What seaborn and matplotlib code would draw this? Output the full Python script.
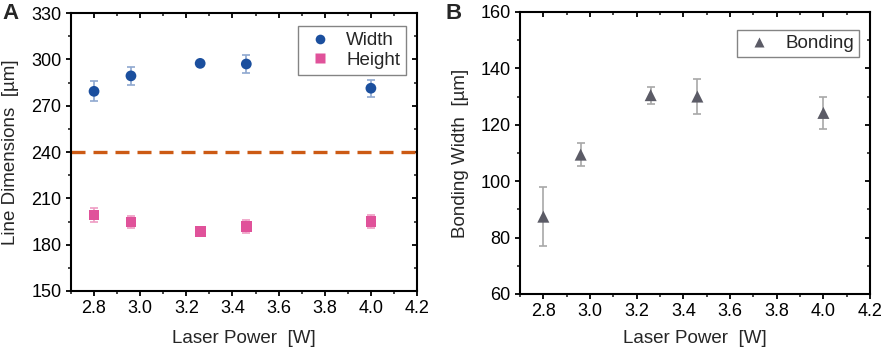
import numpy as np
import pandas as pd
import matplotlib
matplotlib.use("Agg")
import matplotlib.pyplot as plt
import seaborn as sns
from matplotlib.ticker import MultipleLocator

power = [2.8, 2.96, 3.26, 3.46, 4.0]
width = [279.3, 289.3, 297.4, 297.0, 281.3]
width_err = [6.5, 6.0, 1.0, 6.0, 5.4]
height = [199.2, 194.7, 188.4, 191.7, 195.1]
height_err = [4.6, 4.0, 1.0, 4.0, 4.0]
bonding = [87.4, 109.4, 130.5, 130.0, 124.2]
bonding_err = [10.4, 4.0, 3.0, 6.2, 5.6]
threshold = 240

sns.set_style("ticks")
plt.rcParams['font.family'] = ['Liberation Sans', 'DejaVu Sans']
FS = 13.5
TFS = 13

fig = plt.figure(figsize=(8.86, 3.52), dpi=100)
axA = fig.add_axes([0.0801, 0.1733, 0.3906, 0.7897])
axB = fig.add_axes([0.5869, 0.165, 0.3951, 0.801])

dfA = pd.DataFrame({"power": power * 2,
                    "value": width + height,
                    "err": width_err + height_err,
                    "series": ["Width"] * 5 + ["Height"] * 5})
blue = "#1b4f9e"
pink = "#e0529a"
axA.errorbar(power, width, yerr=width_err, fmt="none", ecolor="#8fa8cf", elinewidth=1.2, capsize=3, capthick=1.2, zorder=2)
axA.errorbar(power, height, yerr=height_err, fmt="none", ecolor="#ef9cc4", elinewidth=1.2, capsize=3, capthick=1.2, zorder=2)
sns.scatterplot(data=dfA, x="power", y="value", hue="series", style="series",
                markers={"Width": "o", "Height": "s"},
                palette={"Width": blue, "Height": pink}, s=60, edgecolor="none",
                ax=axA, zorder=3)
axA.axhline(threshold, color="#cc5a14", lw=2.4, ls=(0, (4.2, 2.4)), zorder=1)
axA.set_xlim(2.7, 4.2)
axA.set_ylim(150, 330)
axA.yaxis.set_major_locator(MultipleLocator(30))
axA.yaxis.set_minor_locator(MultipleLocator(15))
axA.set_ylabel("Line Dimensions  [µm]", fontsize=FS, labelpad=9)
axA.set_xlabel("Laser Power  [W]", fontsize=FS, labelpad=9)
leg = axA.legend(loc="upper right", fontsize=FS, frameon=True, fancybox=False,
                 edgecolor="#666666", handletextpad=0.5, borderpad=0.3,
                 labelspacing=0.15, handlelength=1.8, borderaxespad=0,
                 bbox_to_anchor=(0.968, 0.952), markerscale=0.9)
leg.get_frame().set_linewidth(1.0)

dfB = pd.DataFrame({"power": power, "value": bonding, "series": ["Bonding"] * 5})
gray = "#5b5b66"
axB.errorbar(power, bonding, yerr=bonding_err, fmt="none", ecolor="#a8a8a8", elinewidth=1.2, capsize=3, capthick=1.2, zorder=2)
sns.scatterplot(data=dfB, x="power", y="value", hue="series", style="series",
                markers={"Bonding": "^"}, palette={"Bonding": gray}, s=75,
                edgecolor="none", ax=axB, zorder=3)
axB.set_xlim(2.7, 4.2)
axB.set_ylim(60, 160)
axB.yaxis.set_major_locator(MultipleLocator(20))
axB.yaxis.set_minor_locator(MultipleLocator(10))
axB.set_ylabel("Bonding Width  [µm]", fontsize=FS, labelpad=8)
axB.set_xlabel("Laser Power  [W]", fontsize=FS, labelpad=7)
leg = axB.legend(loc="upper right", fontsize=FS, frameon=True, fancybox=False,
                 edgecolor="#666666", handletextpad=0.5, borderpad=0.25,
                 handlelength=1.8, borderaxespad=0,
                 bbox_to_anchor=(0.967, 0.935), markerscale=0.85)
leg.get_frame().set_linewidth(1.0)

for ax in (axA, axB):
    ax.xaxis.set_major_locator(MultipleLocator(0.2))
    ax.xaxis.set_minor_locator(MultipleLocator(0.1))
    ax.xaxis.set_major_formatter(matplotlib.ticker.FormatStrFormatter("%.1f"))
    for s in ax.spines.values():
        s.set_visible(True)
        s.set_linewidth(1.5)
        s.set_color("black")
    ax.tick_params(axis="both", which="major", direction="out", length=3.8, width=1.3, labelsize=TFS, colors="black", pad=3)
    ax.tick_params(axis="both", which="minor", direction="out", length=2.3, width=1.2)
    ax.tick_params(axis="both", which="both", top=True, right=True)
    ax.set_facecolor("white")

# Top and right ticks point inward
for ax in (axA, axB):
    for t in ax.xaxis.get_major_ticks() + ax.xaxis.get_minor_ticks():
        t.tick2line.set_marker(matplotlib.lines.TICKDOWN)
    for t in ax.yaxis.get_major_ticks() + ax.yaxis.get_minor_ticks():
        t.tick2line.set_marker(matplotlib.lines.TICKLEFT)

fig.text(0.003, 0.962, "A", fontsize=16, fontweight="bold", va="center", ha="left")
fig.text(0.503, 0.962, "B", fontsize=16, fontweight="bold", va="center", ha="left")

fig.savefig("out.png", dpi=100, facecolor="white")
